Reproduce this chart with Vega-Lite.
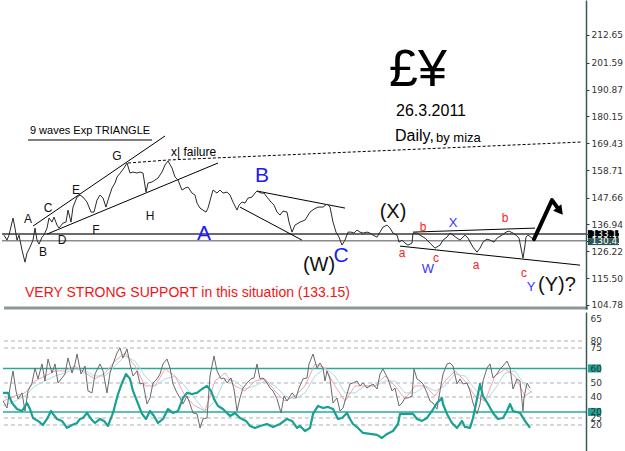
{
"$schema": "https://vega.github.io/schema/vega-lite/v6.json",
"padding": 0,
"spacing": 2,
"background": "white",
"config": {"view": {"stroke": null}, "font": "Liberation Sans", "line": {"strokeJoin": "round"}},
"datasets": {
"price": [
{"x":4,"p":132.7},{"x":7,"p":130.7},{"x":9,"p":132.7},{"x":13,"p":139.5},{"x":15,"p":135.5},{"x":17,"p":130.7},{"x":19,"p":132.7},{"x":22,"p":126.7},{"x":25,"p":121.9},{"x":27,"p":125.5},{"x":30,"p":127.9},{"x":33,"p":130.7},{"x":35,"p":135.5},{"x":37,"p":130.7},{"x":39,"p":129.1},{"x":42,"p":131.9},{"x":44,"p":132.7},{"x":47,"p":135.5},{"x":49,"p":139.5},{"x":52,"p":137.9},{"x":54,"p":139.9},{"x":57,"p":136.7},{"x":59,"p":135.5},{"x":63,"p":137.5},{"x":66,"p":137.9},{"x":68,"p":142.7},{"x":71,"p":137.9},{"x":73,"p":143.9},{"x":77,"p":147.9},{"x":80,"p":148.7},{"x":83,"p":147.9},{"x":87,"p":145.9},{"x":91,"p":141.9},{"x":94,"p":141.9},{"x":97,"p":146.7},{"x":100,"p":148.7},{"x":103,"p":147.5},{"x":106,"p":143.9},{"x":108,"p":146.7},{"x":112,"p":151.5},{"x":115,"p":153.5},{"x":117,"p":155.9},{"x":121,"p":157.9},{"x":124,"p":159.5},{"x":127,"p":161.5},{"x":130,"p":157.5},{"x":133,"p":157.9},{"x":137,"p":157.5},{"x":140,"p":157.9},{"x":143,"p":157.5},{"x":146,"p":149.9},{"x":148,"p":153.5},{"x":152,"p":153.9},{"x":155,"p":154.7},{"x":158,"p":155.5},{"x":162,"p":157.9},{"x":165,"p":160.7},{"x":168,"p":162.3},{"x":172,"p":159.5},{"x":175,"p":155.9},{"x":178,"p":154.7},{"x":182,"p":150.7},{"x":185,"p":151.5},{"x":188,"p":151.9},{"x":192,"p":149.5},{"x":195,"p":148.7},{"x":197,"p":145.5},{"x":200,"p":143.5},{"x":203,"p":142.7},{"x":206,"p":141.9},{"x":208,"p":143.5},{"x":211,"p":147.9},{"x":213,"p":150.7},{"x":217,"p":149.5},{"x":220,"p":150.7},{"x":223,"p":149.5},{"x":227,"p":149.9},{"x":230,"p":148.7},{"x":233,"p":145.9},{"x":237,"p":142.7},{"x":239,"p":144.7},{"x":242,"p":145.9},{"x":245,"p":145.5},{"x":248,"p":147.5},{"x":252,"p":147.9},{"x":255,"p":149.5},{"x":257,"p":150.3},{"x":261,"p":149.5},{"x":264,"p":149.5},{"x":267,"p":147.9},{"x":271,"p":145.9},{"x":274,"p":144.7},{"x":277,"p":141.9},{"x":280,"p":140.7},{"x":283,"p":142.3},{"x":287,"p":141.9},{"x":289,"p":137.9},{"x":292,"p":133.9},{"x":295,"p":136.7},{"x":300,"p":137.9},{"x":305,"p":138.7},{"x":310,"p":141.9},{"x":314,"p":143.1},{"x":318,"p":143.9},{"x":323,"p":143.9},{"x":327,"p":145.1},{"x":330,"p":143.9},{"x":333,"p":137.9},{"x":336,"p":133.9},{"x":339,"p":131.9},{"x":342,"p":128.7},{"x":345,"p":130.7},{"x":348,"p":133.9},{"x":351,"p":133.9},{"x":354,"p":133.5},{"x":357,"p":134.7},{"x":360,"p":133.9},{"x":363,"p":133.5},{"x":367,"p":133.9},{"x":370,"p":133.5},{"x":373,"p":132.7},{"x":377,"p":131.9},{"x":380,"p":133.9},{"x":383,"p":135.9},{"x":387,"p":136.7},{"x":390,"p":135.5},{"x":393,"p":133.5},{"x":397,"p":132.7},{"x":399,"p":129.9},{"x":402,"p":130.7},{"x":405,"p":129.5},{"x":408,"p":128.7},{"x":412,"p":129.5},{"x":413,"p":133.5},{"x":417,"p":133.5},{"x":420,"p":132.7},{"x":425,"p":131.5},{"x":430,"p":129.5},{"x":435,"p":127.5},{"x":440,"p":128.7},{"x":443,"p":130.7},{"x":447,"p":131.9},{"x":450,"p":133.5},{"x":453,"p":132.7},{"x":457,"p":131.5},{"x":460,"p":130.7},{"x":465,"p":132.7},{"x":468,"p":131.5},{"x":473,"p":127.9},{"x":477,"p":125.9},{"x":480,"p":127.5},{"x":483,"p":129.9},{"x":487,"p":131.1},{"x":490,"p":130.7},{"x":494,"p":129.9},{"x":497,"p":131.5},{"x":502,"p":132.7},{"x":506,"p":133.9},{"x":509,"p":134.3},{"x":513,"p":133.5},{"x":516,"p":132.7},{"x":519,"p":131.5},{"x":523,"p":123.5},{"x":525,"p":128.7},{"x":526,"p":131.9},{"x":528,"p":132.7},{"x":532,"p":131.5},{"x":534,"p":131.1}
],
"trend": [
{"seg":"tu","x":33,"p":136.3},{"seg":"tu","x":165,"p":172.3},
{"seg":"tl","x":47,"p":133.1},{"seg":"tl","x":218,"p":161.5},
{"seg":"ul","x":28,"p":170.7},{"seg":"ul","x":152,"p":170.7},
{"seg":"bcu","x":257,"p":150.3},{"seg":"bcu","x":345,"p":143.5},
{"seg":"bcl","x":240,"p":143.9},{"seg":"bcl","x":302,"p":130.7},
{"seg":"chl","x":400,"p":128.3},{"seg":"chl","x":580,"p":120.7},
{"seg":"chu","x":413,"p":133.9},{"seg":"chu","x":535,"p":135.5}
],
"dashed": [{"x":128,"p":161.5},{"x":168,"p":162.7},{"x":582,"p":169.9}],
"arrow": [{"x":534,"p":131.1},{"x":552,"p":146.7},{"x":560,"p":142.3}],
"arrowhead": [{"x":560,"p":142.3}],
"support": [{"x":2,"p":133.15},{"x":586,"p":133.15}],
"last": [{"x":2,"p":130.43},{"x":586,"p":130.43}],
"sep": [{"x":4,"p":103.6},{"x":588,"p":103.6}],
"boxes": [{"name":"support","p":134.7,"p2":131.5},{"name":"last","p":131.5,"p2":128.7}],
"labels": [
{"text":"9 waves Exp TRIANGLE","x":90,"p":174.3,"kind":"note"},
{"text":"A","x":28,"p":139.1,"kind":"wave"},
{"text":"B","x":43,"p":125.9,"kind":"wave"},
{"text":"C","x":48,"p":143.5,"kind":"wave"},
{"text":"D","x":62,"p":130.7,"kind":"wave"},
{"text":"E","x":76,"p":150.7,"kind":"wave"},
{"text":"F","x":96,"p":134.7,"kind":"wave"},
{"text":"G","x":117,"p":164.3,"kind":"wave"},
{"text":"H","x":150,"p":140.3,"kind":"wave"},
{"text":"A","x":204,"p":133.1,"kind":"major"},
{"text":"B","x":262,"p":156.3,"kind":"major"},
{"text":"C","x":341,"p":124.3,"kind":"major"},
{"text":"(W)","x":319,"p":120.7,"kind":"paren"},
{"text":"(X)","x":393,"p":141.9,"kind":"paren"},
{"text":"(Y)?","x":557,"p":112.7,"kind":"paren"},
{"text":"a","x":402,"p":125.5,"kind":"subred"},
{"text":"b","x":423,"p":135.9,"kind":"subred"},
{"text":"X","x":453,"p":137.5,"kind":"subblue"},
{"text":"c","x":436,"p":123.5,"kind":"subred"},
{"text":"W","x":428,"p":119.1,"kind":"subblue"},
{"text":"a","x":476,"p":120.7,"kind":"subred"},
{"text":"b","x":505,"p":139.5,"kind":"subred"},
{"text":"c","x":524,"p":117.5,"kind":"subred"},
{"text":"Y","x":531,"p":111.9,"kind":"subblue"},
{"text":"£¥","x":418,"p":198.7,"kind":"pair"},
{"text":"26.3.2011","x":431,"p":182.3,"kind":"date"}
],
"notes": [
{"text":"x| failure","x":171,"p":165.9,"kind":"note"},
{"text":"Daily,","x":395,"p":172.3,"kind":"date"},
{"text":"by miza","x":436,"p":171.5,"kind":"by"},
{"text":"VERY STRONG SUPPORT in this situation (133.15)","x":25,"p":109.5,"kind":"support"}
],
"teal": [
{"x":3,"v":42.9},{"x":8,"v":42.9},{"x":12,"v":35.7},{"x":17,"v":31.4},{"x":22,"v":30.0},{"x":27,"v":35.7},{"x":30,"v":31.4},{"x":33,"v":25.0},{"x":38,"v":22.9},{"x":43,"v":20.0},{"x":47,"v":24.3},{"x":51,"v":30.0},{"x":53,"v":27.9},{"x":57,"v":24.3},{"x":62,"v":22.9},{"x":67,"v":17.9},{"x":72,"v":20.0},{"x":77,"v":21.4},{"x":80,"v":24.3},{"x":83,"v":25.0},{"x":87,"v":28.6},{"x":91,"v":24.3},{"x":95,"v":21.4},{"x":100,"v":24.3},{"x":104,"v":22.9},{"x":108,"v":19.3},{"x":113,"v":28.6},{"x":118,"v":42.1},{"x":122,"v":50.0},{"x":126,"v":56.4},{"x":130,"v":52.9},{"x":133,"v":44.3},{"x":137,"v":37.1},{"x":142,"v":27.9},{"x":146,"v":24.3},{"x":150,"v":30.0},{"x":154,"v":26.4},{"x":158,"v":21.4},{"x":163,"v":24.3},{"x":168,"v":31.4},{"x":173,"v":28.6},{"x":178,"v":30.0},{"x":183,"v":39.3},{"x":187,"v":42.9},{"x":192,"v":42.1},{"x":197,"v":42.9},{"x":202,"v":45.7},{"x":207,"v":47.9},{"x":211,"v":44.3},{"x":214,"v":38.6},{"x":218,"v":33.6},{"x":223,"v":31.4},{"x":230,"v":26.4},{"x":235,"v":28.6},{"x":240,"v":25.0},{"x":246,"v":22.9},{"x":250,"v":19.3},{"x":255,"v":17.9},{"x":260,"v":19.3},{"x":267,"v":20.7},{"x":273,"v":18.6},{"x":280,"v":20.7},{"x":287,"v":24.3},{"x":292,"v":22.9},{"x":297,"v":17.9},{"x":300,"v":19.3},{"x":305,"v":15.7},{"x":310,"v":17.9},{"x":313,"v":27.9},{"x":318,"v":33.6},{"x":323,"v":32.1},{"x":328,"v":32.9},{"x":333,"v":31.4},{"x":338,"v":24.3},{"x":342,"v":25.0},{"x":347,"v":28.6},{"x":350,"v":24.3},{"x":353,"v":20.7},{"x":358,"v":17.9},{"x":363,"v":14.3},{"x":370,"v":13.6},{"x":377,"v":12.9},{"x":382,"v":10.7},{"x":387,"v":13.6},{"x":393,"v":15.7},{"x":398,"v":20.7},{"x":400,"v":27.9},{"x":407,"v":27.9},{"x":413,"v":27.9},{"x":417,"v":24.3},{"x":422,"v":22.9},{"x":427,"v":25.0},{"x":432,"v":30.0},{"x":437,"v":35.7},{"x":442,"v":39.3},{"x":443,"v":35.0},{"x":447,"v":27.9},{"x":452,"v":21.4},{"x":457,"v":17.9},{"x":462,"v":22.9},{"x":465,"v":18.6},{"x":470,"v":17.9},{"x":473,"v":25.0},{"x":477,"v":38.6},{"x":480,"v":49.3},{"x":483,"v":40.7},{"x":488,"v":35.0},{"x":493,"v":28.6},{"x":498,"v":24.3},{"x":503,"v":25.0},{"x":507,"v":30.0},{"x":510,"v":35.0},{"x":513,"v":30.0},{"x":520,"v":28.6},{"x":525,"v":22.9},{"x":530,"v":17.9}
],
"osc": [
{"x":3,"v":37.1},{"x":7,"v":32.1},{"x":10,"v":46.4},{"x":13,"v":58.6},{"x":16,"v":44.3},{"x":18,"v":38.6},{"x":22,"v":42.9},{"x":25,"v":30.0},{"x":28,"v":44.3},{"x":32,"v":50.0},{"x":35,"v":60.7},{"x":38,"v":52.9},{"x":42,"v":63.6},{"x":45,"v":51.4},{"x":48,"v":67.1},{"x":52,"v":57.1},{"x":55,"v":63.6},{"x":58,"v":50.0},{"x":62,"v":53.6},{"x":65,"v":56.4},{"x":68,"v":67.9},{"x":72,"v":57.1},{"x":75,"v":63.6},{"x":77,"v":70.7},{"x":81,"v":56.4},{"x":85,"v":62.1},{"x":88,"v":44.3},{"x":92,"v":42.9},{"x":95,"v":56.4},{"x":100,"v":63.6},{"x":103,"v":58.6},{"x":107,"v":42.9},{"x":110,"v":57.1},{"x":113,"v":63.6},{"x":117,"v":71.4},{"x":120,"v":75.0},{"x":123,"v":67.9},{"x":127,"v":74.3},{"x":130,"v":63.6},{"x":133,"v":55.0},{"x":137,"v":58.6},{"x":140,"v":49.3},{"x":143,"v":50.0},{"x":147,"v":35.0},{"x":150,"v":39.3},{"x":153,"v":50.0},{"x":157,"v":52.9},{"x":160,"v":56.4},{"x":163,"v":63.6},{"x":167,"v":67.1},{"x":170,"v":60.7},{"x":173,"v":49.3},{"x":177,"v":42.9},{"x":180,"v":39.3},{"x":183,"v":35.0},{"x":187,"v":40.7},{"x":190,"v":35.0},{"x":193,"v":28.6},{"x":197,"v":27.9},{"x":200,"v":17.9},{"x":203,"v":24.3},{"x":207,"v":25.0},{"x":210,"v":55.0},{"x":214,"v":69.3},{"x":217,"v":58.6},{"x":221,"v":52.9},{"x":224,"v":53.6},{"x":227,"v":50.0},{"x":231,"v":53.6},{"x":234,"v":45.7},{"x":237,"v":30.0},{"x":240,"v":39.3},{"x":243,"v":46.4},{"x":247,"v":50.0},{"x":251,"v":52.9},{"x":254,"v":53.6},{"x":257,"v":63.6},{"x":260,"v":52.9},{"x":263,"v":53.6},{"x":267,"v":50.0},{"x":270,"v":46.4},{"x":273,"v":44.3},{"x":277,"v":38.6},{"x":281,"v":28.6},{"x":284,"v":40.7},{"x":287,"v":37.1},{"x":292,"v":42.9},{"x":296,"v":39.3},{"x":299,"v":46.4},{"x":303,"v":52.9},{"x":307,"v":53.6},{"x":309,"v":63.6},{"x":313,"v":70.7},{"x":315,"v":65.7},{"x":317,"v":60.7},{"x":320,"v":64.3},{"x":323,"v":60.7},{"x":325,"v":51.4},{"x":327,"v":58.6},{"x":330,"v":52.9},{"x":333,"v":35.7},{"x":337,"v":39.3},{"x":340,"v":30.0},{"x":343,"v":32.1},{"x":347,"v":42.1},{"x":350,"v":49.3},{"x":353,"v":50.0},{"x":357,"v":51.4},{"x":360,"v":47.9},{"x":363,"v":50.0},{"x":367,"v":46.4},{"x":370,"v":47.9},{"x":373,"v":49.3},{"x":377,"v":45.7},{"x":380,"v":56.4},{"x":383,"v":60.0},{"x":385,"v":57.1},{"x":388,"v":52.9},{"x":392,"v":44.3},{"x":395,"v":46.4},{"x":399,"v":33.6},{"x":402,"v":35.7},{"x":405,"v":39.3},{"x":408,"v":39.3},{"x":412,"v":40.7},{"x":414,"v":60.0},{"x":417,"v":52.9},{"x":420,"v":51.4},{"x":423,"v":49.3},{"x":427,"v":42.9},{"x":430,"v":37.1},{"x":433,"v":35.7},{"x":437,"v":31.4},{"x":440,"v":44.3},{"x":443,"v":56.4},{"x":447,"v":63.6},{"x":450,"v":64.3},{"x":453,"v":62.1},{"x":457,"v":49.3},{"x":460,"v":52.9},{"x":463,"v":49.3},{"x":467,"v":50.0},{"x":470,"v":44.3},{"x":473,"v":35.7},{"x":477,"v":27.9},{"x":480,"v":35.0},{"x":483,"v":51.4},{"x":487,"v":60.7},{"x":490,"v":63.6},{"x":493,"v":53.6},{"x":497,"v":56.4},{"x":500,"v":60.0},{"x":503,"v":62.1},{"x":507,"v":65.7},{"x":510,"v":60.7},{"x":513,"v":45.7},{"x":517,"v":52.9},{"x":520,"v":51.4},{"x":523,"v":30.0},{"x":524,"v":39.3},{"x":527,"v":50.0},{"x":530,"v":46.4}
],
"pink": [
{"x":3,"v":37.1},{"x":15,"v":40.7},{"x":25,"v":42.9},{"x":35,"v":51.4},{"x":45,"v":55.0},{"x":55,"v":58.6},{"x":65,"v":58.6},{"x":75,"v":62.1},{"x":85,"v":57.1},{"x":95,"v":52.9},{"x":105,"v":57.1},{"x":115,"v":65.7},{"x":125,"v":71.4},{"x":135,"v":62.1},{"x":145,"v":47.9},{"x":155,"v":47.9},{"x":165,"v":60.0},{"x":175,"v":55.0},{"x":185,"v":40.7},{"x":195,"v":33.6},{"x":205,"v":30.0},{"x":215,"v":51.4},{"x":225,"v":57.1},{"x":235,"v":47.9},{"x":245,"v":44.3},{"x":255,"v":51.4},{"x":265,"v":52.9},{"x":275,"v":44.3},{"x":285,"v":37.1},{"x":295,"v":40.7},{"x":305,"v":47.9},{"x":315,"v":63.6},{"x":325,"v":60.7},{"x":335,"v":47.9},{"x":345,"v":37.1},{"x":355,"v":47.9},{"x":365,"v":47.9},{"x":375,"v":47.9},{"x":385,"v":55.0},{"x":395,"v":47.9},{"x":405,"v":38.6},{"x":415,"v":47.9},{"x":425,"v":47.9},{"x":435,"v":40.7},{"x":445,"v":51.4},{"x":455,"v":58.6},{"x":465,"v":51.4},{"x":475,"v":40.7},{"x":485,"v":37.1},{"x":495,"v":55.0},{"x":505,"v":60.0},{"x":515,"v":55.0},{"x":525,"v":40.7},{"x":532,"v":44.3}
],
"lblue": [
{"x":3,"v":33.6},{"x":15,"v":37.1},{"x":25,"v":40.7},{"x":35,"v":47.9},{"x":45,"v":51.4},{"x":55,"v":55.0},{"x":65,"v":57.1},{"x":75,"v":60.0},{"x":85,"v":58.6},{"x":95,"v":55.0},{"x":105,"v":55.0},{"x":115,"v":62.1},{"x":125,"v":69.3},{"x":135,"v":65.7},{"x":145,"v":55.0},{"x":155,"v":47.9},{"x":165,"v":52.9},{"x":175,"v":55.0},{"x":185,"v":47.9},{"x":195,"v":38.6},{"x":205,"v":30.0},{"x":215,"v":37.1},{"x":225,"v":52.9},{"x":235,"v":51.4},{"x":245,"v":45.7},{"x":255,"v":47.9},{"x":265,"v":51.4},{"x":275,"v":47.9},{"x":285,"v":40.7},{"x":295,"v":38.6},{"x":305,"v":42.9},{"x":315,"v":55.0},{"x":325,"v":60.7},{"x":335,"v":55.0},{"x":345,"v":42.9},{"x":355,"v":42.9},{"x":365,"v":47.9},{"x":375,"v":47.9},{"x":385,"v":51.4},{"x":395,"v":51.4},{"x":405,"v":42.9},{"x":415,"v":42.9},{"x":425,"v":47.9},{"x":435,"v":44.3},{"x":445,"v":47.9},{"x":455,"v":56.4},{"x":465,"v":55.0},{"x":475,"v":45.7},{"x":485,"v":37.1},{"x":495,"v":45.7},{"x":505,"v":57.1},{"x":515,"v":58.6},{"x":525,"v":47.9},{"x":532,"v":42.9}
],
"oscLevels": [{"x":4,"v":80},{"x":584,"v":80},{"x":4,"v":75},{"x":584,"v":75},{"x":4,"v":50},{"x":584,"v":50},{"x":4,"v":40},{"x":584,"v":40},{"x":4,"v":25},{"x":584,"v":25},{"x":4,"v":20},{"x":584,"v":20}],
"tealLevels": [{"x":3,"v":60.4},{"x":586,"v":60.4},{"x":3,"v":29.3},{"x":586,"v":29.3}],
"tealBoxes": [{"v":63.3,"v2":57.5},{"v":32.2,"v2":26.4}]
},
"vconcat": [
{
"width": 586, "height": 309,
"layer": [
{
"encoding": {
 "x": {"field": "x", "type": "quantitative", "scale": {"domain": [0, 586], "nice": false, "zero": false}, "axis": null},
 "y": {"field": "p", "type": "quantitative", "scale": {"domain": [103.18, 226.63], "nice": false, "zero": false},
   "axis": {"orient": "right", "title": null, "grid": false, "zindex": 1,
    "values": [212.65, 201.59, 190.87, 180.15, 169.43, 158.71, 147.66, 136.94, 133.15, 130.43, 126.22, 115.50, 104.78],
    "format": ".2f", "labelFontSize": 9, "labelFont": "DejaVu Sans", "labelOverlap": false, "labelBound": false, "labelFlush": false,
    "labelColor": {"condition": {"test": "datum.value == 133.15 || datum.value == 130.43", "value": "#ffffff"}, "value": "#333333"},
    "tickSize": 3, "tickColor": "#333333", "labelPadding": 2, "domainColor": "#3a5858", "domainWidth": 1.5}}
},
"layer": [
{"data": {"name": "sep"}, "mark": {"type": "line", "color": "#8a9898", "strokeWidth": 3, "strokeJoin": "round"}, "encoding": {}},
{"data": {"name": "support"}, "mark": {"type": "line", "strokeWidth": 1.5, "color": "#3a3a3a", "strokeJoin": "round"}, "encoding": {}},
{"data": {"name": "last"}, "mark": {"type": "line", "strokeWidth": 1.5, "color": "#8c8c8c", "strokeJoin": "round"}, "encoding": {}},
{"data": {"name": "trend"}, "mark": {"type": "line", "color": "#000000", "strokeWidth": 1, "strokeJoin": "round"},
 "encoding": {"detail": {"field": "seg", "type": "nominal"}}},
{"data": {"name": "dashed"}, "mark": {"type": "line", "color": "#000000", "strokeWidth": 1, "strokeDash": [3, 2], "strokeJoin": "round"}, "encoding": {}},
{"data": {"name": "price"}, "mark": {"type": "line", "color": "#2a2a2a", "strokeWidth": 1, "strokeJoin": "round"}, "encoding": {}},
{"data": {"name": "arrow"}, "mark": {"type": "line", "color": "#000000", "strokeWidth": 4, "strokeCap": "round", "strokeJoin": "round"}, "encoding": {}},
{"data": {"name": "arrowhead"}, "mark": {"type": "point", "shape": "triangle-up", "angle": 142, "size": 110, "filled": true, "color": "#000000", "opacity": 1}},
{"data": {"name": "labels"}, "transform": [{"filter": "datum.kind == 'note'"}], "mark": {"type": "text", "align": "center", "baseline": "middle", "fontSize": 11, "color": "#000000"}, "encoding": {"text": {"field": "text"}}},
{"data": {"name": "labels"}, "transform": [{"filter": "datum.kind == 'wave'"}], "mark": {"type": "text", "align": "center", "baseline": "middle", "fontSize": 12, "color": "#111111"}, "encoding": {"text": {"field": "text"}}},
{"data": {"name": "labels"}, "transform": [{"filter": "datum.kind == 'major'"}], "mark": {"type": "text", "align": "center", "baseline": "middle", "fontSize": 21, "color": "#1a1aff"}, "encoding": {"text": {"field": "text"}}},
{"data": {"name": "labels"}, "transform": [{"filter": "datum.kind == 'paren'"}], "mark": {"type": "text", "align": "center", "baseline": "middle", "fontSize": 20, "color": "#111111"}, "encoding": {"text": {"field": "text"}}},
{"data": {"name": "labels"}, "transform": [{"filter": "datum.kind == 'subred'"}], "mark": {"type": "text", "align": "center", "baseline": "middle", "fontSize": 12, "color": "#ff2020"}, "encoding": {"text": {"field": "text"}}},
{"data": {"name": "labels"}, "transform": [{"filter": "datum.kind == 'subblue'"}], "mark": {"type": "text", "align": "center", "baseline": "middle", "fontSize": 13, "color": "#3535ff"}, "encoding": {"text": {"field": "text"}}},
{"data": {"name": "labels"}, "transform": [{"filter": "datum.kind == 'pair'"}], "mark": {"type": "text", "align": "center", "baseline": "middle", "fontSize": 52, "color": "#000000"}, "encoding": {"text": {"field": "text"}}},
{"data": {"name": "labels"}, "transform": [{"filter": "datum.kind == 'date'"}], "mark": {"type": "text", "align": "center", "baseline": "middle", "fontSize": 16, "color": "#000000"}, "encoding": {"text": {"field": "text"}}},
{"data": {"name": "notes"}, "transform": [{"filter": "datum.kind == 'note'"}], "mark": {"type": "text", "align": "left", "baseline": "middle", "fontSize": 12, "color": "#000000"}, "encoding": {"text": {"field": "text"}}},
{"data": {"name": "notes"}, "transform": [{"filter": "datum.kind == 'date'"}], "mark": {"type": "text", "align": "left", "baseline": "middle", "fontSize": 16, "color": "#000000"}, "encoding": {"text": {"field": "text"}}},
{"data": {"name": "notes"}, "transform": [{"filter": "datum.kind == 'by'"}], "mark": {"type": "text", "align": "left", "baseline": "middle", "fontSize": 13, "color": "#000000"}, "encoding": {"text": {"field": "text"}}},
{"data": {"name": "notes"}, "transform": [{"filter": "datum.kind == 'support'"}], "mark": {"type": "text", "align": "left", "baseline": "middle", "fontSize": 14, "color": "#f01515"}, "encoding": {"text": {"field": "text"}}}
]
},
{
"data": {"name": "boxes"},
"encoding": {
 "x": {"datum": 588, "type": "quantitative", "axis": null}, "x2": {"datum": 619},
 "y": {"field": "p", "type": "quantitative", "scale": {"domain": [103.18, 226.63], "nice": false, "zero": false},
   "axis": {"orient": "right", "title": null, "grid": false, "zindex": 1,
    "values": [212.65, 201.59, 190.87, 180.15, 169.43, 158.71, 147.66, 136.94, 133.15, 130.43, 126.22, 115.50, 104.78],
    "format": ".2f", "labelFontSize": 9, "labelFont": "DejaVu Sans", "labelOverlap": false, "labelBound": false, "labelFlush": false,
    "labelColor": {"condition": {"test": "datum.value == 133.15 || datum.value == 130.43", "value": "#ffffff"}, "value": "#333333"},
    "tickSize": 3, "tickColor": "#333333", "labelPadding": 2, "domainColor": "#3a5858", "domainWidth": 1.5}},
 "y2": {"field": "p2"}
},
"layer": [
{"transform": [{"filter": "datum.name == 'support'"}], "mark": {"type": "rect", "clip": false, "color": "#000000"}},
{"transform": [{"filter": "datum.name == 'last'"}], "mark": {"type": "rect", "clip": false, "color": "#2e5656"}}
]
}
]
},
{
"width": 586, "height": 140,
"layer": [
{
"encoding": {
 "x": {"field": "x", "type": "quantitative", "scale": {"domain": [0, 586], "nice": false, "zero": false}, "axis": null},
 "y": {"field": "v", "type": "quantitative", "scale": {"domain": [0.7, 100.7], "nice": false, "zero": false},
   "axis": {"orient": "right", "title": null, "grid": false, "zindex": 1,
    "values": [96.4, 80, 75, 60.4, 50, 40, 29.3, 25, 20],
    "labelExpr": "datum.value > 90 ? '65' : datum.value == 60.4 ? '60' : datum.value == 29.3 ? '20' : '' + datum.value",
    "labelFontSize": 9, "labelFont": "DejaVu Sans", "labelOverlap": false, "labelBound": false, "labelFlush": false,
    "labelColor": "#333333", "ticks": false, "labelPadding": 4, "domainColor": "#3a5858", "domainWidth": 1.5}}
},
"layer": [
{"data": {"name": "oscLevels"}, "mark": {"type": "line", "color": "#b0b0b0", "strokeWidth": 1, "strokeDash": [4, 3], "strokeJoin": "round"},
 "encoding": {"detail": {"field": "v", "type": "nominal"}}},
{"data": {"name": "tealLevels"}, "mark": {"type": "line", "color": "#2aa89c", "strokeWidth": 1.5, "strokeJoin": "round"},
 "encoding": {"detail": {"field": "v", "type": "nominal"}}},
{"data": {"name": "lblue"}, "mark": {"type": "line", "color": "#a9dde6", "strokeWidth": 1, "strokeJoin": "round"}, "encoding": {}},
{"data": {"name": "pink"}, "mark": {"type": "line", "color": "#f3a5ad", "strokeWidth": 1, "strokeJoin": "round"}, "encoding": {}},
{"data": {"name": "osc"}, "mark": {"type": "line", "color": "#6a6a6a", "strokeWidth": 1, "strokeJoin": "round"}, "encoding": {}},
{"data": {"name": "teal"}, "mark": {"type": "line", "color": "#17a093", "strokeWidth": 2.2, "strokeJoin": "round"}, "encoding": {}}
]
},
{
"data": {"name": "tealBoxes"},
"mark": {"type": "rect", "clip": false, "color": "#1fa396"},
"encoding": {
 "x": {"datum": 588, "type": "quantitative", "axis": null}, "x2": {"datum": 601},
 "y": {"field": "v", "type": "quantitative", "scale": {"domain": [0.7, 100.7], "nice": false, "zero": false},
   "axis": {"orient": "right", "title": null, "grid": false, "zindex": 1,
    "values": [96.4, 80, 75, 60.4, 50, 40, 29.3, 25, 20],
    "labelExpr": "datum.value > 90 ? '65' : datum.value == 60.4 ? '60' : datum.value == 29.3 ? '20' : '' + datum.value",
    "labelFontSize": 9, "labelFont": "DejaVu Sans", "labelOverlap": false, "labelBound": false, "labelFlush": false,
    "labelColor": "#333333", "ticks": false, "labelPadding": 4, "domainColor": "#3a5858", "domainWidth": 1.5}},
 "y2": {"field": "v2"}
}
}
]
}
]
}
